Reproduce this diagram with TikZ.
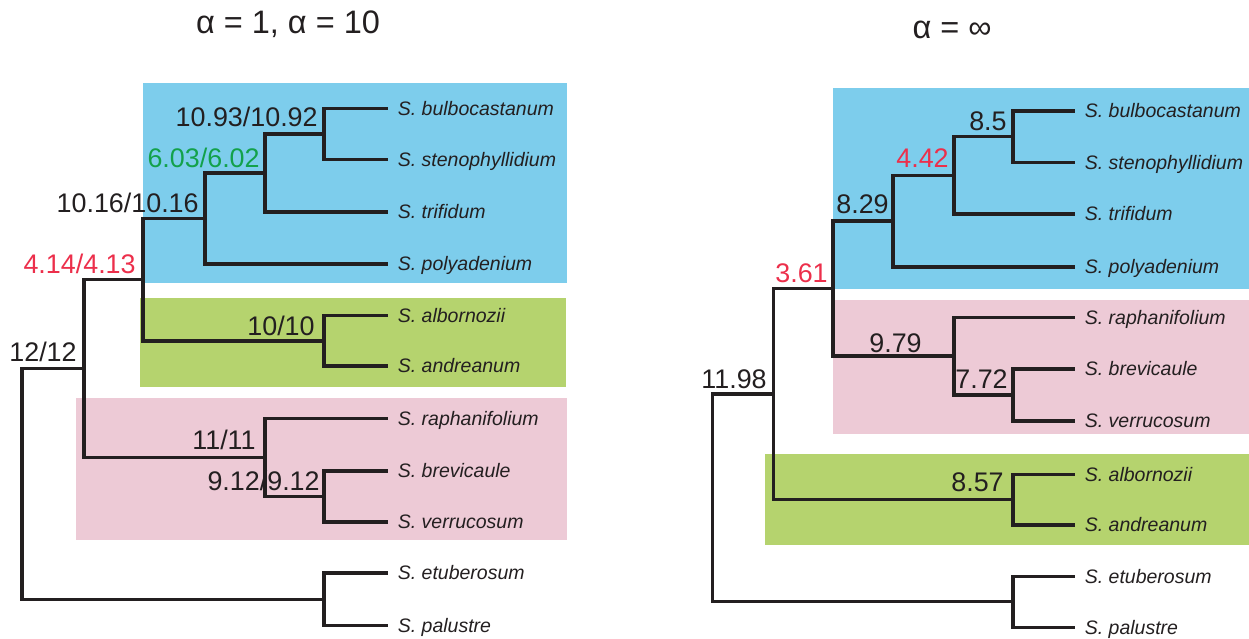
\documentclass[tikz,border=0pt]{standalone}
\usepackage{fontspec}
\setmainfont{Liberation Sans}
\usetikzlibrary{positioning}
\definecolor{cladeblue}{HTML}{7DCDEC}
\definecolor{cladegreen}{HTML}{B5D36E}
\definecolor{cladepink}{HTML}{EDCAD6}
\definecolor{suppred}{HTML}{EC2F4B}
\definecolor{suppgreen}{HTML}{13A14B}
\definecolor{branchcol}{HTML}{231F20}
\begin{document}
\begin{tikzpicture}[x=0.02cm,y=-0.02cm,
    br/.style={draw=branchcol,line width=1.85pt},
    taxon/.style={anchor=west,inner xsep=0.19cm,inner ysep=0pt,text height=7.9pt,text depth=0pt,
      font=\fontsize{11.1}{13}\selectfont\itshape,text=branchcol},
    supp/.style={anchor=base east,inner sep=0pt,font=\fontsize{15.3}{18}\selectfont,text=branchcol},
    ttl/.style={anchor=base,inner sep=0pt,font=\fontsize{18.5}{22}\selectfont,text=branchcol}]
  \useasboundingbox (0,0) rectangle (1249,639);

  % clade boxes
  \fill[cladeblue]  (143,83)  rectangle (567,283);
  \fill[cladegreen] (140,298) rectangle (566,387);
  \fill[cladepink]  (76,398)  rectangle (567,540);
  \fill[cladeblue]  (833,88)  rectangle (1249,289);
  \fill[cladepink]  (833,300) rectangle (1249,434);
  \fill[cladegreen] (765,454) rectangle (1249,545);

  \node[ttl] (t1) at (288,33) {α = 1, α = 10};
  \node[ttl] (t2) at (952,38) {α = ∞};

  % alpha = 1, alpha = 10
  \coordinate (lA) at (22,484);
  \coordinate (lB) at (84,368.6);
  \coordinate (lC) at (143,279.7);
  \coordinate (lD) at (205,218.5);
  \coordinate (lF) at (265,173);
  \coordinate (lG) at (324,134.1);
  \coordinate (lE) at (324,340.9);
  \coordinate (lH) at (265,457.6);
  \coordinate (lI) at (324,496.5);
  \coordinate (lJ) at (324,599.4);

  \node[taxon] (lbulbo) at (388,108.7) {S. bulbocastanum};
  \node[taxon] (lsteno) at (388,159.5) {S. stenophyllidium};
  \node[taxon] (ltrif) at (388,212) {S. trifidum};
  \node[taxon] (lpoly) at (388,264) {S. polyadenium};
  \node[taxon] (lalbo) at (388,315.7) {S. albornozii};
  \node[taxon] (landr) at (388,366) {S. andreanum};
  \node[taxon] (lraph) at (388,418.7) {S. raphanifolium};
  \node[taxon] (lbrev) at (388,471) {S. brevicaule};
  \node[taxon] (lverr) at (388,522) {S. verrucosum};
  \node[taxon] (letub) at (388,573) {S. etuberosum};
  \node[taxon] (lpalu) at (388,625.7) {S. palustre};

  \draw[br] (lA) |- (lB);
  \draw[br] (lA) |- (lJ);
  \draw[br] (lB) |- (lC);
  \draw[br] (lB) |- (lH);
  \draw[br] (lC) |- (lD);
  \draw[br] (lC) |- (lE);
  \draw[br] (lD) |- (lF);
  \draw[br] (lD) |- (lpoly.west);
  \draw[br] (lF) |- (lG);
  \draw[br] (lF) |- (ltrif.west);
  \draw[br] (lG) |- (lbulbo.west);
  \draw[br] (lG) |- (lsteno.west);
  \draw[br] (lE) |- (lalbo.west);
  \draw[br] (lE) |- (landr.west);
  \draw[br] (lH) |- (lraph.west);
  \draw[br] (lH) |- (lI);
  \draw[br] (lI) |- (lbrev.west);
  \draw[br] (lI) |- (lverr.west);
  \draw[br] (lJ) |- (letub.west);
  \draw[br] (lJ) |- (lpalu.west);

  \node[supp] (sG) at (318,126.7) {10.93/10.92};
  \node[supp,text=suppgreen] (sF) at (260,167) {6.03/6.02};
  \node[supp] (sD) at (199,212.7) {10.16/10.16};
  \node[supp,text=suppred] (sC) at (136,273) {4.14/4.13};
  \node[supp] (sE) at (315,335.7) {10/10};
  \node[supp] (sB) at (77,361.7) {12/12};
  \node[supp] (sH) at (256,449) {11/11};
  \node[supp] (sI) at (320,490.7) {9.12/9.12};

  % alpha = infinity
  \coordinate (rA) at (712.6,498);
  \coordinate (rB) at (773.5,394);
  \coordinate (rC) at (833,288.7);
  \coordinate (rD) at (893,221);
  \coordinate (rF) at (954,175.3);
  \coordinate (rG) at (1013,136.6);
  \coordinate (rE) at (954,356);
  \coordinate (rI) at (1013,395);
  \coordinate (rK) at (1013,499.6);
  \coordinate (rJ) at (1013,601.8);

  \node[taxon] (rbulbo) at (1075,111) {S. bulbocastanum};
  \node[taxon] (rsteno) at (1075,162.3) {S. stenophyllidium};
  \node[taxon] (rtrif) at (1075,214) {S. trifidum};
  \node[taxon] (rpoly) at (1075,267) {S. polyadenium};
  \node[taxon] (rraph) at (1075,317.7) {S. raphanifolium};
  \node[taxon] (rbrev) at (1075,369) {S. brevicaule};
  \node[taxon] (rverr) at (1075,421) {S. verrucosum};
  \node[taxon] (ralbo) at (1075,474.3) {S. albornozii};
  \node[taxon] (randr) at (1075,525) {S. andreanum};
  \node[taxon] (retub) at (1075,576.3) {S. etuberosum};
  \node[taxon] (rpalu) at (1075,627.3) {S. palustre};

  \draw[br] (rA) |- (rB);
  \draw[br] (rA) |- (rJ);
  \draw[br] (rB) |- (rC);
  \draw[br] (rB) |- (rK);
  \draw[br] (rC) |- (rD);
  \draw[br] (rC) |- (rE);
  \draw[br] (rD) |- (rF);
  \draw[br] (rD) |- (rpoly.west);
  \draw[br] (rF) |- (rG);
  \draw[br] (rF) |- (rtrif.west);
  \draw[br] (rG) |- (rbulbo.west);
  \draw[br] (rG) |- (rsteno.west);
  \draw[br] (rE) |- (rraph.west);
  \draw[br] (rE) |- (rI);
  \draw[br] (rI) |- (rbrev.west);
  \draw[br] (rI) |- (rverr.west);
  \draw[br] (rK) |- (ralbo.west);
  \draw[br] (rK) |- (randr.west);
  \draw[br] (rJ) |- (retub.west);
  \draw[br] (rJ) |- (rpalu.west);

  \node[supp] (qG) at (1007,130) {8.5};
  \node[supp,text=suppred] (qF) at (949,167) {4.42};
  \node[supp] (qD) at (889,213) {8.29};
  \node[supp,text=suppred] (qC) at (828,282) {3.61};
  \node[supp] (qE) at (922,352.5) {9.79};
  \node[supp] (qI) at (1008,388) {7.72};
  \node[supp] (qK) at (1004,491.7) {8.57};
  \node[supp] (qB) at (767,388.3) {11.98};
\end{tikzpicture}
\end{document}
